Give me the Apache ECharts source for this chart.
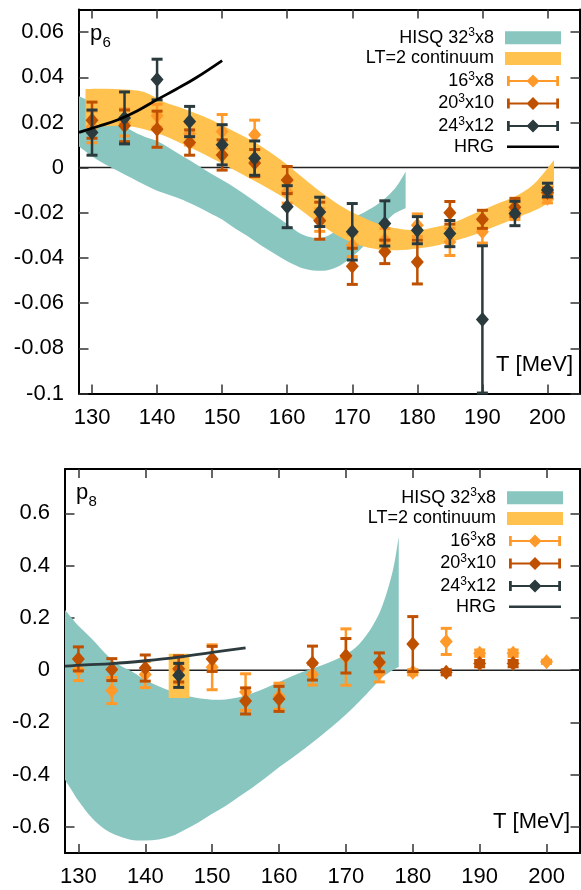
<!DOCTYPE html>
<html>
<head>
<meta charset="utf-8">
<script src="https://cdn.jsdelivr.net/npm/echarts@6.0.0/dist/echarts.min.js"></script>
<style>
  html, body { margin: 0; padding: 0; background: #fff; }
  #chart { width: 581px; height: 890px; }
</style>
</head>
<body>
<div id="chart"></div>
<script>
// ---------- data ----------
var X_TICKS = [130, 140, 150, 160, 170, 180, 190, 200];
var Y_TICKS_P6 = [-0.1, -0.08, -0.06, -0.04, -0.02, 0, 0.02, 0.04, 0.06];
var Y_TICKS_P8 = [-0.6, -0.4, -0.2, 0, 0.2, 0.4, 0.6];
var ZERO_T = [128, 205];
var ZERO_V = [0, 0];

// p6 panel
var P6_HISQ_T  = [128, 130, 132, 134, 136, 138, 140, 142, 144, 146, 148, 150, 152, 154, 156, 158, 160, 162, 164, 166, 168, 170, 172, 174, 176, 177, 178.2];
var P6_HISQ_HI = [0.0316, 0.029, 0.0256, 0.021, 0.0165, 0.0138, 0.0118, 0.0085, 0.0049, 0.0015, -0.0022, -0.0055, -0.009, -0.0129, -0.017, -0.021, -0.025, -0.0292, -0.031, -0.0305, -0.027, -0.0225, -0.0195, -0.016, -0.011, -0.0075, -0.0018];
var P6_HISQ_LO = [0.0093, 0.005, 0.0015, -0.0015, -0.0045, -0.0075, -0.0102, -0.0122, -0.0143, -0.017, -0.02, -0.023, -0.027, -0.0305, -0.0345, -0.038, -0.0415, -0.0442, -0.0455, -0.0455, -0.0435, -0.0395, -0.034, -0.0275, -0.0215, -0.0195, -0.018];

var P6_LT_T  = [129, 132, 135, 138, 141, 144, 147, 150, 153, 156, 159, 162, 165, 168, 171, 174, 177, 180, 183, 186, 189, 192, 195, 198, 201];
var P6_LT_HI = [0.0348, 0.0349, 0.0346, 0.0335, 0.0292, 0.0262, 0.0228, 0.0188, 0.0143, 0.0095, 0.0035, -0.0035, -0.0105, -0.0165, -0.0212, -0.0248, -0.027, -0.0277, -0.0262, -0.0238, -0.02, -0.0163, -0.0128, -0.007, 0.0034];
var P6_LT_LO = [0.0175, 0.0183, 0.0185, 0.017, 0.0142, 0.0103, 0.0062, 0.0018, -0.0028, -0.0075, -0.0125, -0.0185, -0.025, -0.0305, -0.0343, -0.0362, -0.0366, -0.0358, -0.0345, -0.0322, -0.0295, -0.026, -0.0225, -0.019, -0.0144];

var P6_T = [130, 135, 140, 145, 150, 155, 160, 165, 170, 175, 180, 185, 190, 195, 200];
var P6_16_V = [0.018, 0.020, 0.023, 0.015, 0.016, 0.0145, -0.0107, -0.0232, -0.0344, -0.032, -0.0255, -0.0329, -0.0284, -0.019, -0.0136];
var P6_16_E = [0.007, 0.006, 0.005, 0.005, 0.0075, 0.0065, 0.005, 0.005, 0.005, 0.005, 0.005, 0.006, 0.005, 0.004, 0.002];
var P6_20_V = [0.021, 0.0185, 0.017, 0.0111, 0.0056, 0.002, -0.0055, -0.0235, -0.0437, -0.0373, -0.0418, -0.02, -0.0229, -0.0176, -0.011];
var P6_20_E = [0.008, 0.007, 0.008, 0.0056, 0.0067, 0.006, 0.006, 0.0082, 0.008, 0.0052, 0.0097, 0.005, 0.004, 0.004, 0.002];
var P6_24_V = [0.0155, 0.022, 0.039, 0.0204, 0.0101, 0.0042, -0.0173, -0.0196, -0.0284, -0.0247, -0.0277, -0.0292, -0.0672, -0.0203, -0.0099];
var P6_24_E = [0.010, 0.0115, 0.009, 0.0067, 0.0089, 0.0076, 0.0093, 0.0065, 0.0125, 0.01, 0.006, 0.0058, 0.0326, 0.0054, 0.003];

var P6_HRG_T = [128, 131, 134, 137, 140, 143, 146, 150];
var P6_HRG_V = [0.0156, 0.0183, 0.0212, 0.0252, 0.0301, 0.0348, 0.0398, 0.0474];

// p8 panel
var P8_HISQ_T  = [128, 129, 130, 132, 134, 136, 138, 140, 142, 144, 146, 148, 150, 152, 154, 156, 158, 160, 162, 164, 166, 168, 170, 172, 174, 175.5, 177, 177.9];
var P8_HISQ_HI = [0.23, 0.20, 0.17, 0.12, 0.065, 0.022, -0.005, -0.038, -0.062, -0.082, -0.097, -0.108, -0.113, -0.112, -0.104, -0.088, -0.068, -0.045, -0.022, -0.002, 0.015, 0.035, 0.06, 0.10, 0.17, 0.25, 0.38, 0.51];
var P8_HISQ_LO = [-0.42, -0.46, -0.50, -0.565, -0.61, -0.635, -0.65, -0.652, -0.648, -0.635, -0.61, -0.582, -0.55, -0.52, -0.485, -0.45, -0.412, -0.372, -0.335, -0.297, -0.257, -0.215, -0.17, -0.12, -0.066, -0.026, 0.0, 0.012];

var P8_LT_T  = [143.5, 146.6];
var P8_LT_HI = [0.063, 0.063];
var P8_LT_LO = [-0.107, -0.107];

var P8_16_T = [130, 135, 140, 145, 150, 155, 160, 165, 170, 175, 180, 185, 190, 195, 200];
var P8_16_V = [0.002, -0.078, -0.017, 0.0, 0.011, -0.084, -0.10, -0.017, 0.05, -0.011, -0.008, 0.11, 0.065, 0.065, 0.032];
var P8_16_E = [0.042, 0.05, 0.05, 0.05, 0.086, 0.07, 0.05, 0.04, 0.108, 0.034, 0.01, 0.05, 0.012, 0.012, 0.006];
var P8_20_T = [130, 135, 140, 145, 150, 155, 160, 165, 170, 175, 180, 185, 190, 195];
var P8_20_V = [0.043, 0.002, 0.008, 0.005, 0.043, -0.118, -0.11, 0.027, 0.055, 0.03, 0.1, -0.008, 0.025, 0.025];
var P8_20_E = [0.046, 0.042, 0.05, 0.05, 0.048, 0.05, 0.048, 0.065, 0.066, 0.036, 0.105, 0.01, 0.012, 0.012];
var P8_24_T = [145];
var P8_24_V = [-0.02];
var P8_24_E = [0.046];

var P8_HRG_T = [128, 131, 135, 140, 145, 150, 155];
var P8_HRG_V = [0.015, 0.02, 0.025, 0.036, 0.05, 0.068, 0.085];

// ---------- style ----------
var FONT = '"Liberation Sans", Arial, Helvetica, sans-serif';
var C_HISQ = '#89c6c0';
var C_LT = '#ffc24f';
var C_16 = '#ff9a2a';
var C_20 = '#be5000';
var C_24 = '#2a3a3d';
var C_HRG_TOP = '#000000';
var C_HRG_BOT = '#2d3b3e';

var ICON_EB = 'path://M0,6H56V8H0Z M0,1.5H3V12.5H0Z M53,1.5H56V12.5H53Z M21,7L28,0L35,7L28,14Z';
var ICON_LINE = 'path://M0,5.7H56V8.3H0Z M0,0H0.01V0.01H0Z M55.99,13.99H56V14H55.99Z';

var LABELS = {
  hisq: '{t|HISQ 32}{s|3}{t|x8}',
  lt: '{t|LT=2 continuum}',
  l16: '{t|16}{s|3}{t|x8}',
  l20: '{t|20}{s|3}{t|x10}',
  l24: '{t|24}{s|3}{t|x12}',
  hrg: '{t|HRG}'
};

function zip2(a, b) { return a.map(function (v, i) { return [v, b[i]]; }); }
function zip3(a, b, c) { return a.map(function (v, i) { return [v, b[i], c[i]]; }); }

// smooth curve through screen points (Catmull-Rom -> cubic bezier), drawing only
function curvePath(pts, smooth) {
  var d = '';
  for (var i = 0; i < pts.length - 1; i++) {
    var p0 = pts[Math.max(i - 1, 0)], p1 = pts[i], p2 = pts[i + 1], p3 = pts[Math.min(i + 2, pts.length - 1)];
    if (!smooth) { d += ' L' + p2[0] + ',' + p2[1]; continue; }
    var c1x = p1[0] + (p2[0] - p0[0]) / 6, c1y = p1[1] + (p2[1] - p0[1]) / 6;
    var c2x = p2[0] - (p3[0] - p1[0]) / 6, c2y = p2[1] - (p3[1] - p1[1]) / 6;
    d += ' C' + c1x + ',' + c1y + ' ' + c2x + ',' + c2y + ' ' + p2[0] + ',' + p2[1];
  }
  return d;
}

function bandRenderer(smooth) {
  return function (params, api) {
    if (params.dataIndex !== 0) return null;
    var n = params.dataInsideLength;
    var up = [], dn = [];
    for (var i = 0; i < n; i++) {
      var t = api.value(0, i);
      up.push(api.coord([t, api.value(2, i)]));
      dn.push(api.coord([t, api.value(1, i)]));
    }
    dn.reverse();
    var d = 'M' + up[0][0] + ',' + up[0][1] + curvePath(up, smooth) +
      ' L' + dn[0][0] + ',' + dn[0][1] + curvePath(dn, smooth) + ' Z';
    return { type: 'path', shape: { pathData: d }, style: { fill: api.visual('color') } };
  };
}

function ebItem(params, api) {
  var x = api.value(0), y = api.value(1), e = api.value(2);
  var p = api.coord([x, y]);
  var hi = api.coord([x, y + e]);
  var lo = api.coord([x, y - e]);
  var c = api.visual('color');
  var cw = 5.5, dw = 6.5, dh = 7.5;
  return {
    type: 'group',
    children: [
      { type: 'line', shape: { x1: p[0], y1: hi[1], x2: p[0], y2: lo[1] }, style: { stroke: c, lineWidth: 2.5 } },
      { type: 'line', shape: { x1: p[0] - cw, y1: hi[1], x2: p[0] + cw, y2: hi[1] }, style: { stroke: c, lineWidth: 3 } },
      { type: 'line', shape: { x1: p[0] - cw, y1: lo[1], x2: p[0] + cw, y2: lo[1] }, style: { stroke: c, lineWidth: 3 } },
      { type: 'polygon', shape: { points: [[p[0] - dw, p[1]], [p[0], p[1] - dh], [p[0] + dw, p[1]], [p[0], p[1] + dh]] }, style: { fill: c } }
    ]
  };
}

function zeroLine(g) {
  return {
    type: 'line', xAxisIndex: g * 2, yAxisIndex: g * 2, data: zip2(ZERO_T, ZERO_V),
    symbol: 'none', silent: true, lineStyle: { color: '#222', width: 1.5 }, z: 1
  };
}

function band(name, g, T, lo, hi, color, smooth) {
  return {
    type: 'custom', name: name, xAxisIndex: g * 2, yAxisIndex: g * 2,
    data: zip3(T, lo, hi), encode: { x: 0, y: [1, 2] }, renderItem: bandRenderer(smooth),
    itemStyle: { color: color }, silent: true, z: 2
  };
}

function errSeries(name, g, T, V, E, color) {
  return {
    type: 'custom', name: name, xAxisIndex: g * 2, yAxisIndex: g * 2,
    data: zip3(T, V, E), encode: { x: 0, y: 1 }, renderItem: ebItem,
    itemStyle: { color: color }, silent: true, z: 3
  };
}

function lineSeries(name, g, T, V, color) {
  return {
    type: 'line', name: name, xAxisIndex: g * 2, yAxisIndex: g * 2, data: zip2(T, V),
    symbol: 'none', smooth: 0.4, silent: true, itemStyle: { color: color },
    lineStyle: { color: color, width: 2.8 }, z: 4
  };
}

function xAxes(g) {
  var tick = { inside: true, length: 9, customValues: X_TICKS, lineStyle: { color: '#333', width: 1.5 } };
  var line = { show: true, onZero: false, lineStyle: { color: '#000', width: 2 } };
  return [
    { type: 'value', gridIndex: g, position: 'bottom', min: 128, max: 205, axisLine: line, axisTick: tick,
      axisLabel: { customValues: X_TICKS, fontSize: 22, color: '#000', fontFamily: FONT, margin: 13 },
      splitLine: { show: false } },
    { type: 'value', gridIndex: g, position: 'top', min: 128, max: 205, axisLine: line, axisTick: tick,
      axisLabel: { show: false }, splitLine: { show: false } }
  ];
}

function yAxes(g, min, max, ticks) {
  var tick = { inside: true, length: 9.5, customValues: ticks, lineStyle: { color: '#333', width: 1.5 } };
  var line = { show: true, onZero: false, lineStyle: { color: '#000', width: 2 } };
  return [
    { type: 'value', gridIndex: g, position: 'left', min: min, max: max, axisLine: line, axisTick: tick,
      axisLabel: { customValues: ticks, fontSize: 22, color: '#000', fontFamily: FONT, margin: 15,
        formatter: function (v) { return String(Math.round(v * 100) / 100); } },
      splitLine: { show: false } },
    { type: 'value', gridIndex: g, position: 'right', min: min, max: max, axisLine: line, axisTick: tick,
      axisLabel: { show: false }, splitLine: { show: false } }
  ];
}

function legend(suffix, top, right) {
  var keys = ['hisq', 'lt', 'l16', 'l20', 'l24', 'hrg'];
  var icons = ['rect', 'rect', ICON_EB, ICON_EB, ICON_EB, ICON_LINE];
  return {
    orient: 'vertical', align: 'right', top: top, right: right, padding: 0,
    itemWidth: 56, itemHeight: 13, itemGap: 2.7, selectedMode: false,
    itemStyle: { borderWidth: 0 },
    data: keys.map(function (k, i) { return { name: k + suffix, icon: icons[i] }; }),
    formatter: function (name) { return LABELS[name.replace(suffix, '')]; },
    textStyle: {
      padding: [0, 6, 0, 0],
      rich: {
        t: { fontSize: 18, lineHeight: 21.6, fontFamily: FONT, color: '#000' },
        s: { fontSize: 12, lineHeight: 14, fontFamily: FONT, color: '#000', verticalAlign: 'top' }
      }
    }
  };
}

function txt(x, y, s, size, align) {
  return { type: 'text', x: x, y: y, silent: true,
    style: { text: s, fontSize: size, fontFamily: FONT, fill: '#000', align: align || 'left', verticalAlign: 'middle' } };
}

var series = [].concat(
  [zeroLine(0),
   band('hisq_t', 0, P6_HISQ_T, P6_HISQ_LO, P6_HISQ_HI, C_HISQ, true),
   band('lt_t', 0, P6_LT_T, P6_LT_LO, P6_LT_HI, C_LT, true),
   errSeries('l16_t', 0, P6_T, P6_16_V, P6_16_E, C_16),
   errSeries('l20_t', 0, P6_T, P6_20_V, P6_20_E, C_20),
   errSeries('l24_t', 0, P6_T, P6_24_V, P6_24_E, C_24),
   lineSeries('hrg_t', 0, P6_HRG_T, P6_HRG_V, C_HRG_TOP)],
  [zeroLine(1),
   band('hisq_b', 1, P8_HISQ_T, P8_HISQ_LO, P8_HISQ_HI, C_HISQ, true),
   band('lt_b', 1, P8_LT_T, P8_LT_LO, P8_LT_HI, C_LT, false),
   errSeries('l16_b', 1, P8_16_T, P8_16_V, P8_16_E, C_16),
   errSeries('l20_b', 1, P8_20_T, P8_20_V, P8_20_E, C_20),
   errSeries('l24_b', 1, P8_24_T, P8_24_V, P8_24_E, C_24),
   lineSeries('hrg_b', 1, P8_HRG_T, P8_HRG_V, C_HRG_BOT)]
);

var chart = echarts.init(document.getElementById('chart'), null, { renderer: 'canvas' });
chart.setOption({
  animation: false,
  backgroundColor: '#fff',
  grid: [
    { left: 79, right: 1, top: 9.5, height: 384 },
    { left: 65, right: 1, top: 469, height: 384 }
  ],
  xAxis: [].concat(xAxes(0), xAxes(1)),
  yAxis: [].concat(yAxes(0, -0.1, 0.07, Y_TICKS_P6), yAxes(1, -0.7, 0.77, Y_TICKS_P8)),
  legend: [legend('_t', 27, 20), legend('_b', 487, 18)],
  graphic: [
    txt(90, 34, 'p', 22), txt(102.5, 43, '6', 15),
    txt(76, 493, 'p', 22), txt(88.5, 502, '8', 15),
    txt(573, 365, 'T [MeV]', 22, 'right'),
    txt(570, 822, 'T [MeV]', 22, 'right')
  ],
  series: series
});
</script>
</body>
</html>
